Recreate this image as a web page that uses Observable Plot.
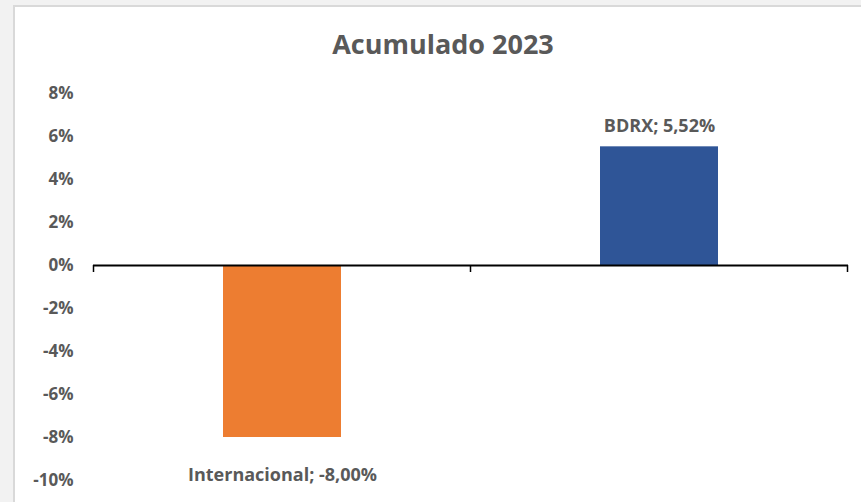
<!DOCTYPE html>
<html>
<head>
<meta charset="utf-8">
<script src="https://cdn.jsdelivr.net/npm/d3@7"></script>
<script src="https://cdn.jsdelivr.net/npm/@observablehq/plot@0.6"></script>
<style>
  html, body { margin: 0; padding: 0; background: #f2f2f2; width: 861px; height: 502px; overflow: hidden; }
  #frame { position: absolute; left: 13px; top: 5px; width: 846px; height: 495px;
    border-left: 2px solid #d9d9d9; border-top: 2px solid #d9d9d9; background: #fff; }
  #title { box-sizing: border-box; height: 63px; padding-top: 23px; padding-left: 10px;
    font-family: "Open Sans", sans-serif; font-weight: bold; font-size: 27px; line-height: 1;
    color: #595959; text-align: center; }
</style>
</head>
<body>
<div id="frame">
  <div id="title">Acumulado 2023</div>
  <div id="chart"></div>
</div>
<script>
const categories = ["Internacional", "BDRX"];
const values = [-8.00, 5.52];
const colors = ["#ED7D31", "#2F5597"];
const yTicks = [-10, -8, -6, -4, -2, 0, 2, 4, 6, 8];

const data = categories.map((c, i) => ({name: c, value: values[i], color: colors[i]}));
const fmt = v => v.toFixed(2).replace(".", ",") + "%";
const label = d => `${d.name}; ${fmt(d.value)}`;

const plot = Plot.plot({
  width: 846,
  height: 432,
  marginLeft: 78,
  marginRight: 13,
  marginTop: 23,
  marginBottom: 22,
  style: {fontFamily: "Open Sans, sans-serif", fontSize: "17px", fontWeight: "bold", color: "#595959", background: "white", overflow: "visible"},
  x: {domain: categories, paddingInner: 0.6874, paddingOuter: 0.3437, axis: null},
  y: {domain: [-10, 8], ticks: yTicks, tickSize: 0, tickPadding: 20, tickFormat: d => d + "%", label: null},
  marks: [
    Plot.barY(data, {x: "name", y: "value", fill: "color"}),
    Plot.ruleY([0], {stroke: "#000", strokeWidth: 2}),
    Plot.text(data.filter(d => d.value >= 0), {x: "name", y: "value", text: label, dy: -21, lineAnchor: "middle", fill: "#595959", fontSize: 18, fontWeight: "bold"}),
    Plot.text(data.filter(d => d.value < 0), {x: "name", y: "value", text: label, dy: 38, lineAnchor: "middle", fill: "#595959", fontSize: 18, fontWeight: "bold"})
  ]
});
document.getElementById("chart").appendChild(plot);

// category-boundary tick marks (Excel style), positioned via Plot's x scale
const xs = plot.scale("x");
const ys = plot.scale("y");
const gap = (xs.step - xs.bandwidth) / 2;
const bounds = categories.map(c => xs.apply(c) - gap);
bounds.push(xs.apply(categories[categories.length - 1]) + xs.bandwidth + gap);
const y0 = ys.apply(0);
d3.select(plot).append("g")
  .selectAll("line").data(bounds).join("line")
  .attr("x1", d => d).attr("x2", d => d)
  .attr("y1", y0).attr("y2", y0 + 7)
  .attr("stroke", "#000").attr("stroke-width", 1.5);
</script>
</body>
</html>
